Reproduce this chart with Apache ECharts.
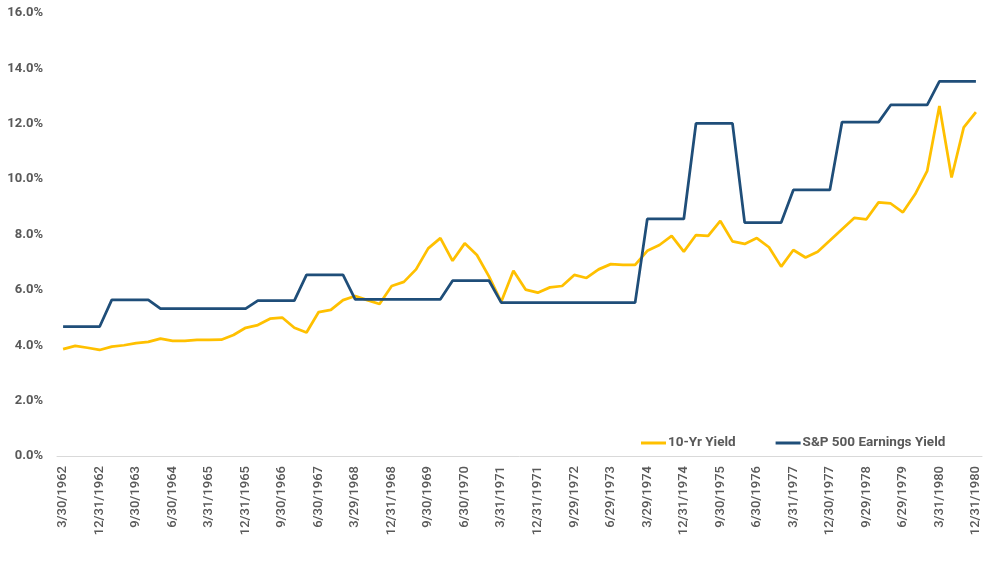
<!DOCTYPE html>
<html>
<head>
<meta charset="utf-8">
<script src="https://cdn.jsdelivr.net/npm/echarts@6/dist/echarts.min.js"></script>
<style>html,body{margin:0;padding:0;background:#fff;}#c{width:994px;height:573px;}</style>
</head>
<body>
<div id="c"></div>
<script>
const categories = [
"3/30/1962","6/29/1962","9/28/1962","12/31/1962",
"3/29/1963","6/28/1963","9/30/1963","12/31/1963",
"3/31/1964","6/30/1964","9/30/1964","12/31/1964",
"3/31/1965","6/30/1965","9/30/1965","12/31/1965",
"3/31/1966","6/30/1966","9/30/1966","12/30/1966",
"3/31/1967","6/30/1967","9/29/1967","12/29/1967",
"3/29/1968","6/28/1968","9/30/1968","12/31/1968",
"3/31/1969","6/30/1969","9/30/1969","12/31/1969",
"3/31/1970","6/30/1970","9/30/1970","12/31/1970",
"3/31/1971","6/30/1971","9/30/1971","12/31/1971",
"3/31/1972","6/30/1972","9/29/1972","12/29/1972",
"3/30/1973","6/29/1973","9/28/1973","12/31/1973",
"3/29/1974","6/28/1974","9/30/1974","12/31/1974",
"3/31/1975","6/30/1975","9/30/1975","12/31/1975",
"3/31/1976","6/30/1976","9/30/1976","12/31/1976",
"3/31/1977","6/30/1977","9/30/1977","12/30/1977",
"3/31/1978","6/30/1978","9/29/1978","12/29/1978",
"3/30/1979","6/29/1979","9/28/1979","12/31/1979",
"3/31/1980","6/30/1980","9/30/1980","12/31/1980"
];
const tenYrYield = [
3.86,3.98,3.91,3.83,
3.95,4.00,4.08,4.12,
4.24,4.16,4.16,4.19,
4.19,4.20,4.37,4.63,
4.73,4.96,5.00,4.63,
4.46,5.20,5.28,5.63,
5.78,5.63,5.49,6.14,
6.29,6.74,7.50,7.87,
7.05,7.68,7.26,6.48,
5.57,6.69,6.01,5.90,
6.09,6.14,6.54,6.43,
6.74,6.93,6.90,6.90,
7.41,7.62,7.95,7.38,
7.98,7.95,8.49,7.75,
7.66,7.87,7.54,6.84,
7.44,7.17,7.38,7.78,
8.19,8.60,8.55,9.16,
9.12,8.80,9.45,10.30,
12.64,10.06,11.87,12.42
];
const spEarningsYield = [
4.67,4.67,4.67,4.67,
5.64,5.64,5.64,5.64,
5.32,5.32,5.32,5.32,
5.32,5.32,5.32,5.32,
5.61,5.61,5.61,5.61,
6.54,6.54,6.54,6.54,
5.66,5.66,5.66,5.66,
5.66,5.66,5.66,5.66,
6.33,6.33,6.33,6.33,
5.54,5.54,5.54,5.54,
5.54,5.54,5.54,5.54,
5.54,5.54,5.54,5.54,
8.56,8.56,8.56,8.56,
12.01,12.01,12.01,12.01,
8.43,8.43,8.43,8.43,
9.61,9.61,9.61,9.61,
12.06,12.06,12.06,12.06,
12.68,12.68,12.68,12.68,
13.53,13.53,13.53,13.53
];
const seriesNames = ["10-Yr Yield","S&P 500 Earnings Yield"];

const chart = echarts.init(document.getElementById('c'));
const font = 'Roboto, "Liberation Sans", Arial, sans-serif';
chart.setOption({
  animation:false,
  backgroundColor:'#fff',
  grid:{left:57,right:12,top:13,bottom:117,containLabel:false},
  legend:{
    data:seriesNames.map(n=>({name:n,icon:'rect'})),
    left:636, top:431,
    itemWidth:25, itemHeight:3, itemGap:40,
    textStyle:{color:'#595959',fontSize:13.5,fontWeight:'bold',fontFamily:font,padding:[0,0,0,-3]}
  },
  xAxis:{
    type:'category',
    data:categories,
    boundaryGap:true,
    axisLine:{lineStyle:{color:'#d9d9d9',width:1}},
    axisTick:{show:false},
    axisLabel:{interval:2,rotate:90,color:'#595959',fontSize:13,fontWeight:500,fontFamily:font,margin:10}
  },
  yAxis:{
    type:'value',
    min:0,max:16,interval:2,
    splitLine:{show:false},
    axisLine:{show:false},
    axisTick:{show:false},
    axisLabel:{formatter:v=>v.toFixed(1)+'%',color:'#595959',fontSize:13,fontWeight:'bold',fontFamily:font,margin:14}
  },
  series:[
    {name:seriesNames[0],type:'line',data:tenYrYield,symbol:'none',lineStyle:{color:'#FFC000',width:2.75},itemStyle:{color:'#FFC000'}},
    {name:seriesNames[1],type:'line',data:spEarningsYield,symbol:'none',lineStyle:{color:'#1F4E79',width:2.75},itemStyle:{color:'#1F4E79'}}
  ]
});
</script>
</body>
</html>
